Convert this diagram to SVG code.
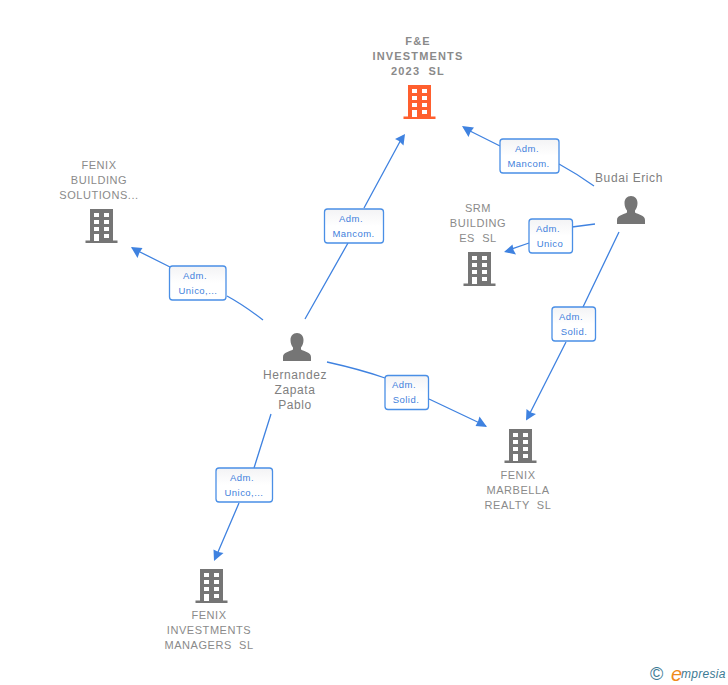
<svg xmlns="http://www.w3.org/2000/svg" width="728" height="685" viewBox="0 0 728 685">
<style>
text{font-family:"Liberation Sans",Arial,sans-serif}
.n{font-size:11px;fill:#8a8a8a;text-anchor:middle;letter-spacing:.55px}
.nb{font-weight:bold;letter-spacing:1.15px}
.p{font-size:12px;fill:#808080;text-anchor:middle;letter-spacing:.6px}
.l{font-size:9.5px;fill:#3f7fdc;text-anchor:middle;letter-spacing:.45px}
.c{fill:none;stroke:#3f82e0;stroke-width:1.3}
.b{fill:url(#g);stroke:#4a8fe6;stroke-width:1.3}
.a{fill:#3f82e0}
</style>
<defs>
<linearGradient id="g" x1="0" y1="0" x2="0" y2="1"><stop offset="0" stop-color="#f3f3f5"/><stop offset=".5" stop-color="#fff"/></linearGradient>
<path id="bld" fill-rule="evenodd" d="M0 0H23V31.500H27.500V34H-4.500V31.500H0ZM4 4V8H9V4ZM14 4V8H19V4ZM4 11V15H9V11ZM14 11V15H19V11ZM4 18V22H9V18ZM14 18V22H19V18ZM4 25V32H9V25ZM14 25V29H19V25Z"/>
<path id="per" d="M0 0C4 0 6.500 3 6.500 7C6.500 10 5.500 12.500 4 14.500V16.500C7 18.500 14 19 14 24V28H-14V24C-14 19 -7 18.500 -4 16.500V14.500C-5.500 12.500 -6.500 10 -6.500 7C-6.500 3 -4 0 0 0Z"/>
</defs>
<rect width="728" height="685" fill="#fff"/>
<g id="connectors">
<path class="c" d="M305 319L348 243M364 208L403 136"/>
<path class="a" d="M405 134L403.500 145.500L399 141L395 139Z"/>
<path class="c" d="M594 186C580 176 570 170 559 164M500 146L464 128"/>
<path class="a" d="M462 126L474 127.500L470.500 132L468.500 137Z"/>
<path class="c" d="M595 224L572 227M529 243L506 251"/>
<path class="a" d="M504 252L512.500 244.500L513.500 250L516 254.500Z"/>
<path class="c" d="M619 232L583 307M566 342L527 419"/>
<path class="a" d="M526 420.500L526.500 409L531 412.500L536 414Z"/>
<path class="c" d="M263 320C250 310 240 303 227 296M170 267L132 248"/>
<path class="a" d="M131 247L142.500 248L139.500 252.500L137.500 258Z"/>
<path class="c" d="M327 362C345 366 365 371 385 378M429 399L486 426"/>
<path class="a" d="M487 427L475.500 426L478 421.500L479.500 416.500Z"/>
<path class="c" d="M271 414L254 468M239 503L215 559"/>
<path class="a" d="M214 561L213.500 549.500L218.500 552L223.500 553Z"/>
</g>
<g id="node-fe">
<text class="n nb" x="418" y="45">F&amp;E</text>
<text class="n nb" x="418" y="60">INVESTMENTS</text>
<text class="n nb" x="418" y="75" xml:space="preserve">2023  SL</text>
<use href="#bld" x="408" y="85" fill="#ff5f2e"/>
</g>
<g id="node-fenix-building">
<text class="n" x="99" y="169">FENIX</text>
<text class="n" x="99" y="184">BUILDING</text>
<text class="n" x="99" y="199">SOLUTIONS...</text>
<use href="#bld" x="90" y="209" fill="#757575"/>
</g>
<g id="node-srm">
<text class="n" x="478" y="212">SRM</text>
<text class="n" x="478" y="227">BUILDING</text>
<text class="n" x="478" y="242" xml:space="preserve">ES  SL</text>
<use href="#bld" x="468" y="252" fill="#757575"/>
</g>
<g id="node-marbella">
<use href="#bld" x="509" y="429" fill="#757575"/>
<text class="n" x="518" y="479">FENIX</text>
<text class="n" x="518" y="494">MARBELLA</text>
<text class="n" x="518" y="509" xml:space="preserve">REALTY  SL</text>
</g>
<g id="node-managers">
<use href="#bld" x="200" y="569" fill="#757575"/>
<text class="n" x="209" y="619">FENIX</text>
<text class="n" x="209" y="634">INVESTMENTS</text>
<text class="n" x="209" y="649" xml:space="preserve">MANAGERS  SL</text>
</g>
<g id="node-hernandez">
<use href="#per" x="297" y="333" fill="#757575"/>
<text class="p" x="295" y="379">Hernandez</text>
<text class="p" x="295" y="394">Zapata</text>
<text class="p" x="295" y="409">Pablo</text>
</g>
<g id="node-budai">
<text class="p" x="629" y="182">Budai Erich</text>
<use href="#per" x="631" y="196" fill="#757575"/>
</g>
<g id="label-1"><rect class="b" x="324.500" y="209" width="59" height="34" rx="3"/><text class="l" x="351" y="222">Adm.</text><text class="l" x="353.500" y="237">Mancom.</text></g>
<g id="label-2"><rect class="b" x="500" y="139" width="59" height="34" rx="3"/><text class="l" x="527" y="152">Adm.</text><text class="l" x="528.500" y="167">Mancom.</text></g>
<g id="label-3"><rect class="b" x="529" y="219" width="43.500" height="34" rx="3"/><text class="l" x="548" y="232">Adm.</text><text class="l" x="550" y="247">Unico</text></g>
<g id="label-4"><rect class="b" x="552" y="307" width="43.500" height="34" rx="3"/><text class="l" x="571" y="320">Adm.</text><text class="l" x="574" y="335">Solid.</text></g>
<g id="label-5"><rect class="b" x="169.500" y="266" width="56.500" height="34" rx="3"/><text class="l" x="195" y="279">Adm.</text><text class="l" x="198" y="294">Unico,...</text></g>
<g id="label-6"><rect class="b" x="385" y="375.500" width="43.500" height="34" rx="3"/><text class="l" x="404" y="388">Adm.</text><text class="l" x="406" y="403">Solid.</text></g>
<g id="label-7"><rect class="b" x="216" y="468" width="56.500" height="34" rx="3"/><text class="l" x="242" y="481">Adm.</text><text class="l" x="244" y="496">Unico,...</text></g>
<g id="logo">
<text x="650" y="680" font-size="18" fill="#3d7a94">©</text>
<text x="671" y="681" font-size="20" font-style="italic" fill="#f08a1c" font-family="Liberation Serif">e</text>
<text x="681" y="678" font-size="12" font-style="italic" fill="#3d7a94" letter-spacing=".3">mpresia</text>
</g>
</svg>
